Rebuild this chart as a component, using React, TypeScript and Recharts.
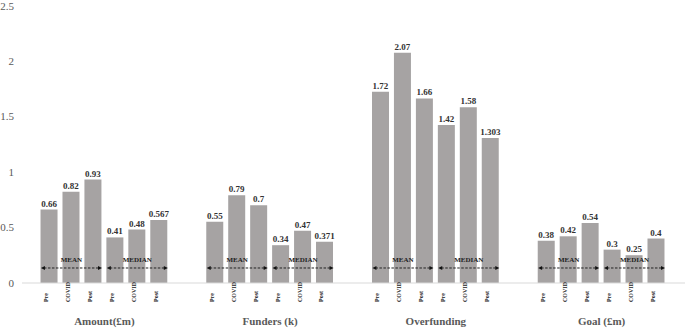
import React from "react";
import { BarChart, Bar, XAxis, YAxis, LabelList, ReferenceLine } from "recharts";

const groups = ["Amount(£m)", "Funders (k)", "Overfunding", "Goal (£m)"];
const periods = ["Pre", "COVID", "Post", "Pre", "COVID", "Post"];
const amountValues = [0.66, 0.82, 0.93, 0.41, 0.48, 0.567];
const fundersValues = [0.55, 0.79, 0.7, 0.34, 0.47, 0.371];
const overfundingValues = [1.72, 2.07, 1.66, 1.42, 1.58, 1.303];
const goalValues = [0.38, 0.42, 0.54, 0.3, 0.25, 0.4];
const yTicks = [0, 0.5, 1, 1.5, 2, 2.5];
const statLabels = ["MEAN", "MEDIAN"];

const GROUP_STEP = 7.55;
const ARROW_Y = 0.135;
const HALF_BAR = 0.39;
const SERIF = "'Liberation Serif', 'DejaVu Serif', 'Times New Roman', serif";

const allValues = [amountValues, fundersValues, overfundingValues, goalValues];
const data = allValues.flatMap((vals, g) =>
  vals.map((v, j) => ({ x: g * GROUP_STEP + j, v, period: periods[j] }))
);
const barTicks = data.map((d) => d.x);
const periodByX: Record<string, string> = {};
data.forEach((d) => (periodByX[String(d.x)] = d.period));
const groupTicks = groups.map((_, g) => g * GROUP_STEP + 2.5);

const PeriodTick = (props: any) => {
  const { x, y, payload } = props;
  const label = periodByX[String(payload.value)] ?? "";
  const tx = x - 1.5;
  const ty = y + 11;
  return (
    <text
      x={tx}
      y={ty}
      transform={`rotate(-90, ${tx}, ${ty})`}
      textAnchor="start"
      style={{ fontSize: 6, fontWeight: 700, fontFamily: SERIF }}
      fill="#222"
    >
      {label}
    </text>
  );
};

const GroupTick = (props: any) => {
  const { x, y, payload } = props;
  const idx = groupTicks.findIndex((t) => Math.abs(t - payload.value) < 1e-6);
  return (
    <text
      x={x}
      y={y + 9}
      textAnchor="middle"
      style={{ fontSize: 11, fontWeight: 700, fontFamily: SERIF }}
      fill="#595959"
    >
      {groups[idx] ?? ""}
    </text>
  );
};

const arrowShape = (label: string) => (props: any) => {
  const { x1, y1, x2, y2 } = props;
  const mx = (x1 + x2) / 2;
  return (
    <g>
      <line
        x1={x1 + 3}
        y1={y1}
        x2={x2 - 3}
        y2={y2}
        stroke="#222"
        strokeWidth={1}
        strokeDasharray="2.5 1.5"
      />
      <polygon points={`${x1},${y1} ${x1 + 4},${y1 - 2} ${x1 + 4},${y1 + 2}`} fill="#111" />
      <polygon points={`${x2},${y2} ${x2 - 4},${y2 - 2} ${x2 - 4},${y2 + 2}`} fill="#111" />
      <text
        x={mx}
        y={y1 - 6}
        textAnchor="middle"
        style={{ fontSize: 7, fontWeight: 700, fontFamily: SERIF }}
        fill="#222"
      >
        {label}
      </text>
    </g>
  );
};

const arrows = groups.flatMap((_, g) =>
  statLabels.map((lab, k) => ({
    key: `${g}-${k}`,
    label: lab,
    from: g * GROUP_STEP + k * 3 - HALF_BAR,
    to: g * GROUP_STEP + k * 3 + 2 + HALF_BAR,
  }))
);

export default function App() {
  return (
    <div
      style={{
        position: "absolute",
        left: 0,
        top: 0,
        width: 685,
        height: 328,
        background: "#fff",
        fontFamily: SERIF,
      }}
    >
      <BarChart
        width={685}
        height={328}
        data={data}
        margin={{ top: 5, right: 0, bottom: 0, left: 0 }}
        style={{ fontFamily: SERIF }}
      >
        <YAxis
          type="number"
          domain={[0, 2.5]}
          ticks={yTicks}
          width={22}
          axisLine={false}
          tickLine={false}
          tick={{ fontSize: 11, fill: "#595959", style: { fontFamily: SERIF } }}
        />
        <XAxis
          dataKey="x"
          type="number"
          domain={[-1.253, 28.95]}
          allowDataOverflow
          ticks={barTicks}
          interval={0}
          height={25}
          tickLine={false}
          axisLine={{ stroke: "#d9d9d9" }}
          tick={<PeriodTick />}
        />
        <XAxis
          xAxisId="grp"
          dataKey="x"
          type="number"
          domain={[-1.253, 28.95]}
          allowDataOverflow
          ticks={groupTicks}
          interval={0}
          height={20}
          tickLine={false}
          axisLine={false}
          tick={<GroupTick />}
        />
        <Bar dataKey="v" fill="#a6a3a3" barSize={17} isAnimationActive={false}>
          <LabelList
            dataKey="v"
            position="top"
            offset={3}
            fill="#333"
            style={{ fontSize: 9, fontWeight: 700, fontFamily: SERIF }}
          />
        </Bar>
        {arrows.map((a) => (
          <ReferenceLine
            key={a.key}
            segment={[
              { x: a.from, y: ARROW_Y },
              { x: a.to, y: ARROW_Y },
            ]}
            shape={arrowShape(a.label)}
          />
        ))}
      </BarChart>
    </div>
  );
}
